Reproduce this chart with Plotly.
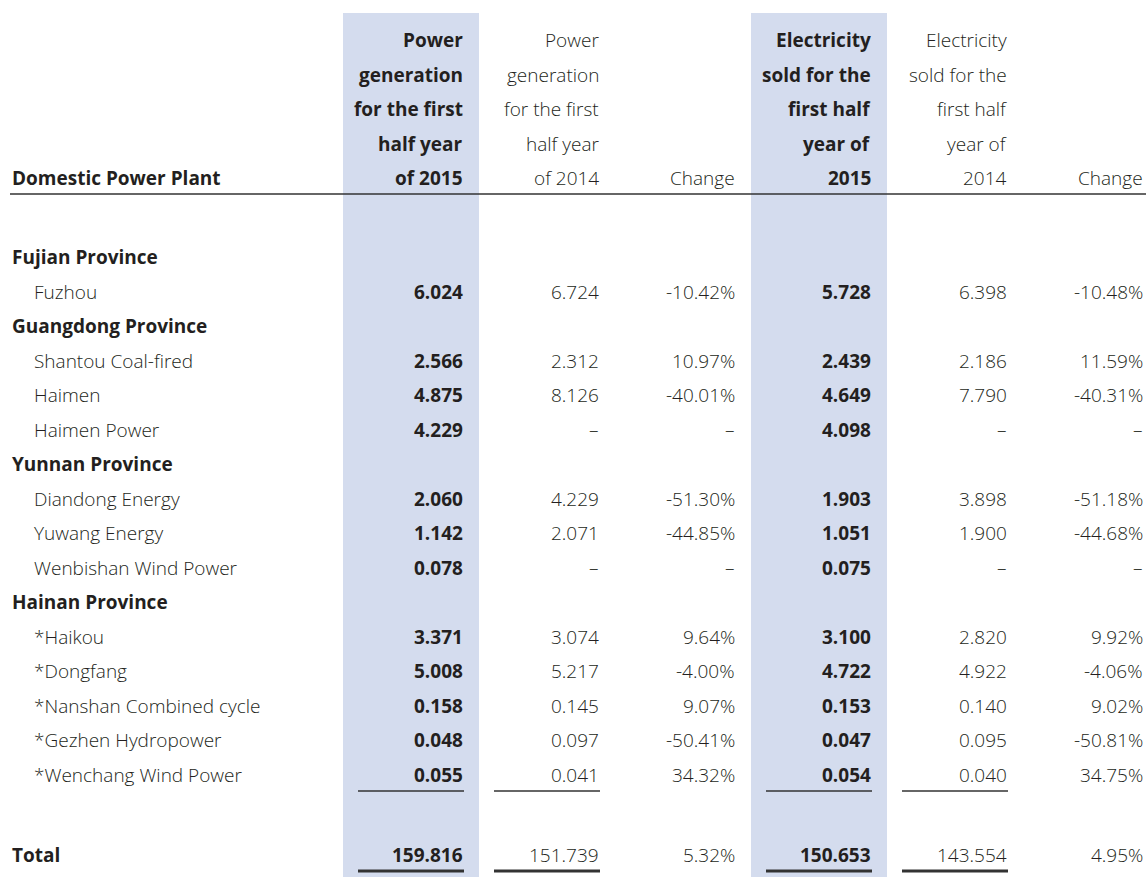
import plotly.graph_objects as go

# ---------------- data ----------------
plants = ["Fujian Province", "Fuzhou", "Guangdong Province", "Shantou Coal-fired", "Haimen",
          "Haimen Power", "Yunnan Province", "Diandong Energy", "Yuwang Energy",
          "Wenbishan Wind Power", "Hainan Province", "*Haikou", "*Dongfang",
          "*Nanshan Combined cycle", "*Gezhen Hydropower", "*Wenchang Wind Power"]
is_province = [True, False, True, False, False, False, True, False, False, False,
               True, False, False, False, False, False]
gen_2015 = [None, 6.024, None, 2.566, 4.875, 4.229, None, 2.060, 1.142, 0.078,
            None, 3.371, 5.008, 0.158, 0.048, 0.055]
gen_2014 = [None, 6.724, None, 2.312, 8.126, "–", None, 4.229, 2.071, "–",
            None, 3.074, 5.217, 0.145, 0.097, 0.041]
gen_change = [None, -10.42, None, 10.97, -40.01, "–", None, -51.30, -44.85, "–",
              None, 9.64, -4.00, 9.07, -50.41, 34.32]
sold_2015 = [None, 5.728, None, 2.439, 4.649, 4.098, None, 1.903, 1.051, 0.075,
             None, 3.100, 4.722, 0.153, 0.047, 0.054]
sold_2014 = [None, 6.398, None, 2.186, 7.790, "–", None, 3.898, 1.900, "–",
             None, 2.820, 4.922, 0.140, 0.095, 0.040]
sold_change = [None, -10.48, None, 11.59, -40.31, "–", None, -51.18, -44.68, "–",
               None, 9.92, -4.06, 9.02, -50.81, 34.75]
totals = [159.816, 151.739, 5.32, 150.653, 143.554, 4.95]

header_first = "Domestic Power Plant"
headers = [
    ["Power", "generation", "for the first", "half year", "of 2015"],
    ["Power", "generation", "for the first", "half year", "of 2014"],
    ["", "", "", "", "Change"],
    ["Electricity", "sold for the", "first half", "year of", "2015"],
    ["Electricity", "sold for the", "first half", "year of", "2014"],
    ["", "", "", "", "Change"],
]
total_label = "Total"

# ---------------- layout constants ----------------
W, H = 1146, 877
FONT = "Open Sans"
FS = 19
TXT = "#231f20"
SHADE = "#d4dcee"
col_right = [464, 600, 736, 872, 1008, 1144]
col_bold = [True, False, False, True, False, False]
col_kind = ["num", "num", "pct", "num", "num", "pct"]
shaded_cols = [0, 3]
underlined_cols = [0, 1, 3, 4]
shade_left_pad, shade_right_pad = 121, 15
uline_len = 106
header_y0, header_pitch = 40, 34.5
row_y0, row_pitch = 257, 34.5
total_y = 855
rule_y = 194
sub_uline_y = 791
tot_uline_y = 871
x_prov, x_plant = 11, 33


def fmt(v, kind):
    if v is None:
        return None
    if isinstance(v, str):
        return v
    if kind == "pct":
        return f"{v:.2f}%"
    return f"{v:.3f}"


def font(bold):
    return dict(family=FONT, size=FS, color=TXT, weight=700 if bold else 300)


fig = go.Figure()
fig.add_trace(go.Scatter(x=[0, W], y=[0, H], mode="markers",
                         marker=dict(opacity=0), hoverinfo="skip", showlegend=False))

shapes = []
for c in shaded_cols:
    shapes.append(dict(type="rect", xref="x", yref="y",
                       x0=col_right[c] - shade_left_pad, x1=col_right[c] + shade_right_pad,
                       y0=13, y1=H, fillcolor=SHADE, line=dict(width=0), layer="below"))
shapes.append(dict(type="line", xref="x", yref="y", x0=10, x1=W, y0=rule_y, y1=rule_y,
                   line=dict(color="#333333", width=1.5)))
for c in underlined_cols:
    shapes.append(dict(type="line", xref="x", yref="y", x0=col_right[c] - uline_len,
                       x1=col_right[c], y0=sub_uline_y, y1=sub_uline_y,
                       line=dict(color="#333333", width=1.3)))
    shapes.append(dict(type="line", xref="x", yref="y", x0=col_right[c] - uline_len,
                       x1=col_right[c], y0=tot_uline_y, y1=tot_uline_y,
                       line=dict(color="#333333", width=3)))

ann = []
# header
ann.append(dict(x=x_prov, y=header_y0 + 4 * header_pitch, text=f"<b>{header_first}</b>",
                xanchor="left", font=font(True)))
for c, lines in enumerate(headers):
    for i, t in enumerate(lines):
        if not t:
            continue
        txt = f"<b>{t}</b>" if col_bold[c] else t
        ann.append(dict(x=col_right[c], y=header_y0 + i * header_pitch, text=txt,
                        xanchor="right", font=font(col_bold[c])))

# body rows
cols = [gen_2015, gen_2014, gen_change, sold_2015, sold_2014, sold_change]
for r, name in enumerate(plants):
    y = row_y0 + r * row_pitch
    if is_province[r]:
        ann.append(dict(x=x_prov, y=y, text=f"<b>{name}</b>", xanchor="left", font=font(True)))
    else:
        ann.append(dict(x=x_plant, y=y, text=name, xanchor="left", font=font(False)))
    for c, series in enumerate(cols):
        s = fmt(series[r], col_kind[c])
        if s is None:
            continue
        txt = f"<b>{s}</b>" if col_bold[c] else s
        ann.append(dict(x=col_right[c], y=y, text=txt, xanchor="right", font=font(col_bold[c])))

# total row
ann.append(dict(x=x_prov, y=total_y, text=f"<b>{total_label}</b>", xanchor="left", font=font(True)))
for c, v in enumerate(totals):
    s = fmt(v, col_kind[c])
    txt = f"<b>{s}</b>" if col_bold[c] else s
    ann.append(dict(x=col_right[c], y=total_y, text=txt, xanchor="right", font=font(col_bold[c])))

for a in ann:
    a.update(xref="x", yref="y", showarrow=False, yanchor="middle", borderpad=0)

fig.update_layout(
    width=W, height=H, margin=dict(l=0, r=0, t=0, b=0),
    paper_bgcolor="white", plot_bgcolor="white",
    xaxis=dict(range=[0, W], visible=False, fixedrange=True),
    yaxis=dict(range=[H, 0], visible=False, fixedrange=True),
    shapes=shapes, annotations=ann, showlegend=False,
)
fig.write_html(
    "out.html",
    config={"displayModeBar": False, "staticPlot": True},
    post_script="document.body.style.margin='0';document.body.style.padding='0';"
                "document.documentElement.style.overflow='hidden';",
)
